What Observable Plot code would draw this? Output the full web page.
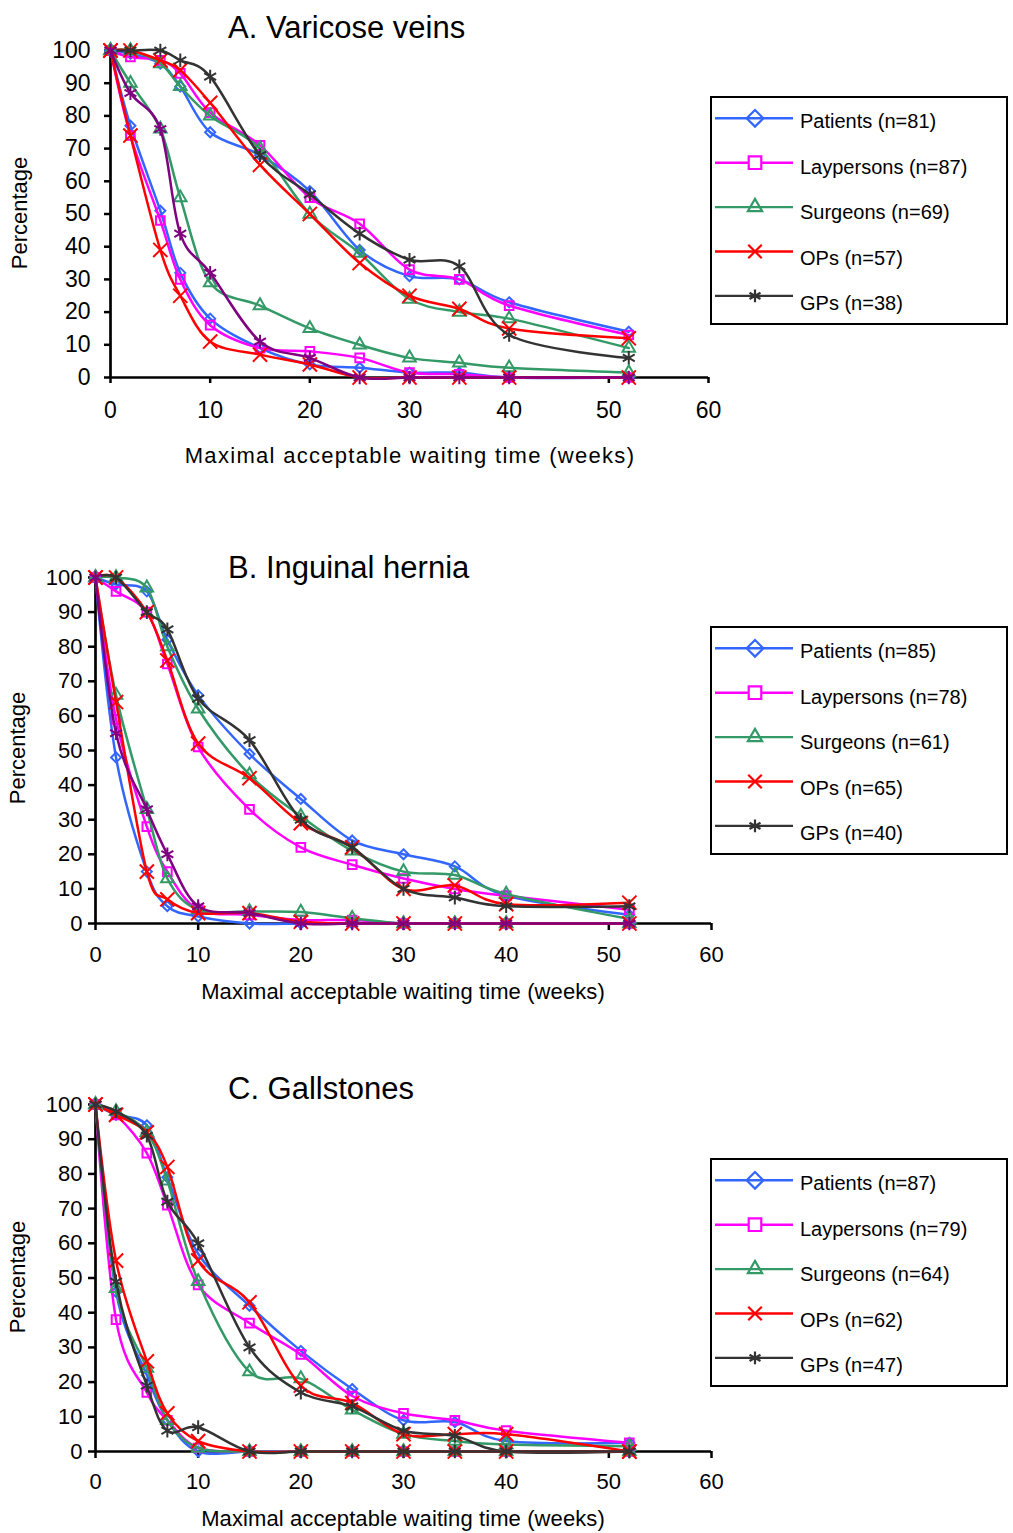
<!DOCTYPE html>
<html><head><meta charset="utf-8">
<script src="https://cdn.jsdelivr.net/npm/d3@7"></script>
<script src="https://cdn.jsdelivr.net/npm/@observablehq/plot@0.6"></script>
<style>
body{margin:0;background:#fff;font-family:"Liberation Sans",Arial,sans-serif;}
#root{position:relative;width:1013px;height:1533px;overflow:hidden;background:#fff;}
.abs{position:absolute;white-space:nowrap;color:#000;line-height:1;}
svg{overflow:visible;}
</style></head><body><div id="root"></div>
<script>
// ---------- data ----------
const weeks = [0, 2, 5, 7, 10, 15, 20, 25, 30, 35, 40, 52];
const groups = ["Patients", "Laypersons", "Surgeons", "OPs", "GPs"];
const xTicks = [0, 10, 20, 30, 40, 50, 60];
const yTicks = [0, 10, 20, 30, 40, 50, 60, 70, 80, 90, 100];
const panelTitles = ["A. Varicose veins", "B. Inguinal hernia", "C. Gallstones"];
const xTitle = "Maximal acceptable waiting time (weeks)";
const yTitle = "Percentage";

const nVaricose = [81, 87, 69, 57, 38];
const nHernia = [85, 78, 61, 65, 40];
const nGallstones = [87, 79, 64, 62, 47];

// order of each: Patients, Laypersons, Surgeons, OPs, GPs ; values at weeks
const varicoseHigh = [
  [100, 99, 96, 89, 75, 68, 57, 39, 31, 30, 23, 14],
  [100, 98, 97, 93, 81, 71, 55, 47, 33, 30, 22, 13],
  [100, 100, 96, 89, 80, 70, 50, 38, 24, 20, 18, 9],
  [100, 100, 97, 94, 84, 65, 50, 35, 25, 21, 15, 12],
  [100, 100, 100, 97, 92, 68, 56, 44, 36, 34, 13, 6]
];
const varicoseLow = [
  [100, 77, 51, 32, 18, 9, 4, 3, 1.5, 1.5, 0, 0],
  [100, 74, 48, 30, 16, 9, 8, 6, 1.5, 1, 0, 0],
  [100, 90, 76, 55, 29, 22, 15, 10, 6, 4.5, 3, 1.5],
  [100, 74, 39, 25, 11, 7, 4, 0, 0, 0, 0, 0],
  [100, 87, 76, 44, 32, 11, 6, 0, 0, 0, 0, 0]
];
const herniaHigh = [
  [100, 98, 96, 82, 66, 49, 36, 24, 20, 16.5, 8, 2.5],
  [100, 96, 90, 75, 51, 33, 22, 17, 13, 10, 8, 4],
  [100, 100, 97, 80, 62, 43, 31, 21, 15, 14, 8.5, 1.3],
  [100, 100, 90, 76, 52, 42, 29, 22, 10, 11, 5.6, 6],
  [100, 100, 90, 85, 65, 53, 30, 22, 10, 7.5, 5, 5]
];
const herniaLow = [
  [100, 48, 15, 5, 2, 0, 0, 0, 0, 0, 0, 0],
  [100, 59, 28, 15, 4, 2.5, 1, 1, 0, 0, 0, 0],
  [100, 66, 33, 13, 4, 3.5, 3.3, 1.5, 0, 0, 0, 0],
  [100, 64, 15, 7, 3, 3, 0.5, 0, 0, 0, 0, 0],
  [100, 55, 33, 20, 5, 3, 0, 0, 0, 0, 0, 0]
];
const gallstonesHigh = [
  [100, 97, 94, 79, 57, 42, 29, 18, 9, 8.5, 3, 2.5],
  [100, 97, 86, 71, 48, 37, 28, 16, 11, 9, 6, 2.5],
  [100, 98, 92, 78, 49, 23, 21, 12, 5, 3, 2, 1.5],
  [100, 97, 92, 82, 55, 43, 19, 14, 5, 5, 5, 0],
  [100, 98, 91, 72, 60, 30, 17, 13, 6, 4.5, 0, 0]
];
const gallstonesLow = [
  [100, 46, 22, 9, 0, 0, 0, 0, 0, 0, 0, 0],
  [100, 38, 17, 9, 1, 0, 0, 0, 0, 0, 0, 0],
  [100, 47, 24, 9, 1, 0, 0, 0, 0, 0, 0, 0],
  [100, 55, 26, 11, 3, 0, 0, 0, 0, 0, 0, 0],
  [100, 49, 19, 6, 7, 0, 0, 0, 0, 0, 0, 0]
];

// ---------- styles ----------
const colors = ["#3366ff", "#ff00ff", "#339966", "#ff0000", "#333333"];
const purple = "#800080";
const symbols = ["diamond2", "square2", "triangle2", "times", "asterisk"];
const dotR = [4.5, 5.5, 6, 6.5, 6.5];
const font = '"Liberation Sans", Arial, sans-serif';

const panels = [
  {n: nVaricose, high: varicoseHigh, low: varicoseLow, lowGp: purple,
   top: 0, height: 480, mt: 50, mb: 103, ml: 110, mr: 305, fs: 23, ts: 6, xPad: 18, yPad: 14,
   title: {x: 228, y: 27}, xt: {x: 410, y: 456, ls: 1.3}, yt: {x: 20, y: 213}, legendTop: 96},
  {n: nHernia, high: herniaHigh, low: herniaLow, lowGp: purple,
   top: 500, height: 500, mt: 77, mb: 77, ml: 95, mr: 302, fs: 22, ts: 7, xPad: 16, yPad: 6,
   title: {x: 228, y: 567}, xt: {x: 403, y: 992, ls: 0.1}, yt: {x: 18, y: 748}, legendTop: 626},
  {n: nGallstones, high: gallstonesHigh, low: gallstonesLow, lowGp: "#333333",
   top: 1030, height: 503, mt: 74, mb: 82, ml: 95, mr: 302, fs: 22, ts: 7, xPad: 15, yPad: 6,
   title: {x: 228, y: 1088}, xt: {x: 403, y: 1519, ls: 0.1}, yt: {x: 18, y: 1277}, legendTop: 1158}
];

const root = document.getElementById("root");

function addDiv(text, css) {
  const d = document.createElement("div");
  d.className = "abs";
  d.textContent = text;
  d.style.cssText += css;
  root.appendChild(d);
  return d;
}

panels.forEach((P, k) => {
  const marks = [
    Plot.axisX({ticks: xTicks, tickSize: P.ts, tickPadding: P.xPad, fontSize: P.fs, strokeWidth: 2.5, label: null, tickFormat: d => String(d)}),
    Plot.axisY({ticks: yTicks, tickSize: P.ts, tickPadding: P.yPad, fontSize: P.fs, strokeWidth: 2.5, label: null, tickFormat: d => String(d)}),
    Plot.ruleY([0], {strokeWidth: 2.7, stroke: "#000"}),
    Plot.ruleX([0], {strokeWidth: 2.7, stroke: "#000"})
  ];
  [["high", P.high], ["low", P.low]].forEach(([setName, arr]) => {
    arr.forEach((vals, i) => {
      const rows = weeks.map((w, j) => ({week: w, value: vals[j], group: groups[i], set: setName}));
      const col = (setName === "low" && i === 4) ? P.lowGp : colors[i];
      marks.push(Plot.line(rows, {x: "week", y: "value", stroke: col, strokeWidth: 2.5, curve: "cardinal"}));
      marks.push(Plot.dot(rows, {x: "week", y: "value", stroke: col, fill: "none", symbol: symbols[i], r: dotR[i], strokeWidth: 2}));
    });
  });
  const chart = Plot.plot({
    width: 1013, height: P.height,
    marginTop: P.mt, marginBottom: P.mb, marginLeft: P.ml, marginRight: P.mr,
    x: {domain: [0, 60]},
    y: {domain: [0, 100]},
    style: {fontFamily: font, fontSize: P.fs + "px", background: "transparent", color: "#000", overflow: "visible"},
    marks
  });
  chart.style.position = "absolute";
  chart.style.left = "0px";
  chart.style.top = P.top + "px";
  root.appendChild(chart);

  // title
  addDiv(panelTitles[k], `left:${P.title.x}px;top:${P.title.y - 15}px;font-size:31px;`);
  // x title
  addDiv(xTitle, `left:${P.xt.x}px;top:${P.xt.y}px;font-size:22px;letter-spacing:${P.xt.ls}px;transform:translate(-50%,-49%);`);
  // y title
  addDiv(yTitle, `left:${P.yt.x}px;top:${P.yt.y}px;font-size:22px;transform:translate(-50%,-50%) rotate(-90deg);`);

  // legend
  const lg = document.createElement("div");
  lg.style.cssText = `position:absolute;left:710px;top:${P.legendTop}px;width:294px;height:225px;border:2px solid #000;background:#fff;`;
  root.appendChild(lg);
  const svg = d3.select(lg).append("svg").attr("width", 294).attr("height", 225)
    .style("position", "absolute").style("left", "0px").style("top", "0px");
  const legSym = [d3.symbolDiamond2, d3.symbolSquare2, d3.symbolTriangle2, d3.symbolTimes, d3.symbolAsterisk];
  const legR = [7.5, 8, 6.8, 6.2, 6];
  groups.forEach((g, i) => {
    const ly = 20.3 + i * 44.4;
    const ty = 22.7 + i * 45.6;
    svg.append("line").attr("x1", 3).attr("x2", 81).attr("y1", ly).attr("y2", ly)
      .attr("stroke", colors[i]).attr("stroke-width", 2.4);
    svg.append("path").attr("d", d3.symbol(legSym[i], Math.PI * legR[i] * legR[i])())
      .attr("transform", `translate(43,${ly})`).attr("fill", i === 1 ? "#fff" : "none")
      .attr("stroke", colors[i]).attr("stroke-width", 2.2);
    svg.append("text").attr("x", 88).attr("y", ty).attr("dy", "0.36em")
      .attr("font-family", font).attr("font-size", 20).attr("fill", "#000")
      .text(`${g} (n=${P.n[i]})`);
  });
});
</script></body></html>
